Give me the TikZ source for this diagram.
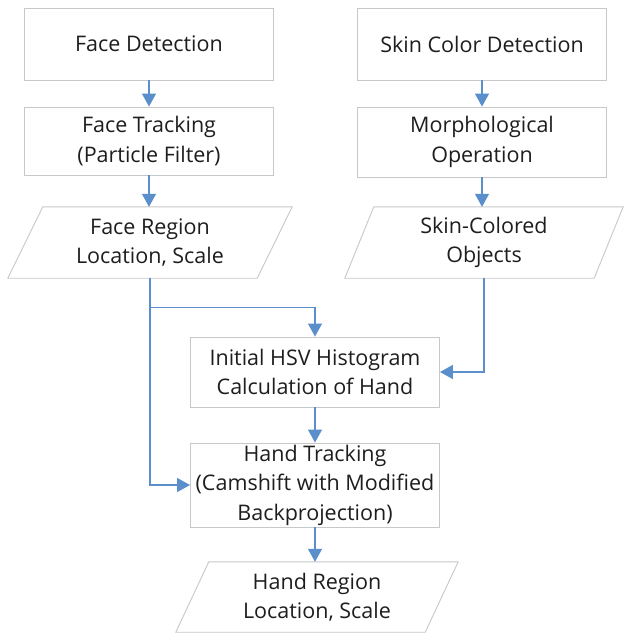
\documentclass[tikz,border=0pt]{standalone}
\usepackage{fontspec}
\setmainfont{Open Sans}
\usetikzlibrary{arrows.meta,calc}
\definecolor{lineblue}{HTML}{5B8FCB}
\definecolor{boxgray}{HTML}{C8C8C8}
\definecolor{txt}{HTML}{1E1E1E}
\begin{document}
\begin{tikzpicture}[x=1pt,y=-1pt,
  every node/.style={font=\fontsize{21.5}{29.5}\selectfont, text=txt, align=center, inner sep=0pt},
  procbox/.style={draw=boxgray, line width=0.9pt, minimum width=249pt},
  iobox/.style={minimum width=249pt},
  flow/.style={draw=lineblue, line width=1.4pt, -{Triangle[length=13pt,width=14pt]}},
  link/.style={draw=lineblue, line width=1.4pt}]
\useasboundingbox (0,0) rectangle (632,635);
\fill[white] (0,0) rectangle (632,635);
% left column
\node[procbox, minimum height=72pt] (fd) at (149,44) {Face Detection};
\node[procbox, minimum height=68pt] (ft) at (149,141) {Face Tracking\\(Particle Filter)};
\node[iobox, minimum height=71pt] (fr) at (150,242.5) {Face Region\\Location, Scale};
% right column
\node[procbox, minimum height=72pt] (sc) at (482,44) {Skin Color Detection};
\node[procbox, minimum height=70pt] (mo) at (482,142) {Morphological\\Operation};
\node[iobox, minimum height=71pt] (so) at (484,242.5) {Skin-Colored\\Objects};
% middle
\node[procbox, minimum height=70pt] (ih) at (315,372) {Initial HSV Histogram\\Calculation of Hand};
\node[procbox, minimum height=84pt] (ht) at (315,485) {Hand Tracking\\(Camshift with Modified\\Backprojection)};
\node[iobox, minimum height=70pt] (hr) at (317,597) {Hand Region\\Location, Scale};
% parallelograms
\foreach \n/\s in {fr/35,so/29,hr/33}{
  \draw[boxgray, line width=0.9pt]
    ($(\n.north west)+(\s/2,0)$) -- ($(\n.north east)+(\s/2,0)$) --
    ($(\n.south east)-(\s/2,0)$) -- ($(\n.south west)-(\s/2,0)$) -- cycle;
}
% connectors
\draw[flow] (fd.south) -- (ft.north);
\draw[flow] (ft.south) -- (ft.south |- fr.north);
\draw[flow] (sc.south) -- (mo.north);
\draw[flow] (mo.south) -- (mo.south |- so.north);
\coordinate (branch) at ($(fr.south)+(0,29)$);
\draw[flow] (fr.south) |- (ht.west);
\draw[flow] (branch) -| (ih.north);
\draw[flow] (so.south) |- (ih.east);
\draw[flow] (ih.south) -- (ht.north);
\draw[flow] (ht.south) -- (ht.south |- hr.north);
\end{tikzpicture}
\end{document}
